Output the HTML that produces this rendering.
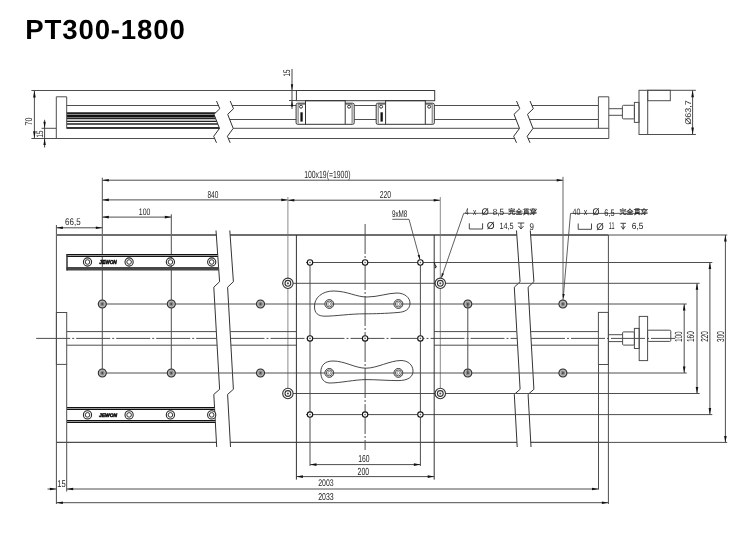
<!DOCTYPE html>
<html><head><meta charset="utf-8"><title>PT300-1800</title>
<style>
html,body{margin:0;padding:0;background:#fff;}
body{width:750px;height:541px;overflow:hidden;font-family:"Liberation Sans",sans-serif;}
svg{display:block;will-change:transform;}
</style></head>
<body>
<svg width="750" height="541" viewBox="0 0 750 541" shape-rendering="geometricPrecision">
<rect width="750" height="541" fill="#fff"/>
<line x1="31.4" y1="90.5" x2="434.7" y2="90.5" stroke="#4e4e4e" stroke-width="1"/>
<line x1="31.4" y1="138.5" x2="214.65" y2="138.5" stroke="#4e4e4e" stroke-width="1"/>
<line x1="228.35" y1="138.5" x2="514.65" y2="138.5" stroke="#4e4e4e" stroke-width="1"/>
<line x1="528.15" y1="138.5" x2="608.8" y2="138.5" stroke="#4e4e4e" stroke-width="1"/>
<line x1="41.6" y1="128.3" x2="56.3" y2="128.3" stroke="#4e4e4e" stroke-width="1"/>
<line x1="66.7" y1="128.3" x2="219.46" y2="128.3" stroke="#4e4e4e" stroke-width="1"/>
<line x1="233.16" y1="128.3" x2="519.46" y2="128.3" stroke="#4e4e4e" stroke-width="1"/>
<line x1="532.96" y1="128.3" x2="608.8" y2="128.3" stroke="#4e4e4e" stroke-width="1"/>
<line x1="66.7" y1="105.5" x2="218.43" y2="105.5" stroke="#4e4e4e" stroke-width="1"/>
<line x1="232.13" y1="105.5" x2="296.2" y2="105.5" stroke="#4e4e4e" stroke-width="1"/>
<line x1="354.3" y1="105.5" x2="376.2" y2="105.5" stroke="#4e4e4e" stroke-width="1"/>
<line x1="531.93" y1="105.5" x2="598.4" y2="105.5" stroke="#4e4e4e" stroke-width="1"/>
<line x1="434.3" y1="105.5" x2="518.43" y2="105.5" stroke="#4e4e4e" stroke-width="1"/>
<line x1="229.73" y1="119.5" x2="296.2" y2="119.5" stroke="#4e4e4e" stroke-width="1"/>
<line x1="354.3" y1="119.5" x2="376.2" y2="119.5" stroke="#4e4e4e" stroke-width="1"/>
<line x1="434.3" y1="119.5" x2="516.03" y2="119.5" stroke="#4e4e4e" stroke-width="1"/>
<line x1="529.53" y1="119.5" x2="598.4" y2="119.5" stroke="#4e4e4e" stroke-width="1"/>
<line x1="66.7" y1="112.5" x2="215.86" y2="112.5" stroke="#555" stroke-width="1.0"/>
<line x1="66.7" y1="113.5" x2="214.83" y2="113.5" stroke="#222" stroke-width="1.0"/>
<line x1="66.7" y1="114.5" x2="214.08" y2="114.5" stroke="#8a8a8a" stroke-width="1.0"/>
<line x1="66.7" y1="115.5" x2="214.47" y2="115.5" stroke="#111" stroke-width="1.0"/>
<line x1="66.7" y1="116.5" x2="214.86" y2="116.5" stroke="#111" stroke-width="1.0"/>
<line x1="66.7" y1="117.5" x2="215.25" y2="117.5" stroke="#777" stroke-width="1.0"/>
<line x1="66.7" y1="118.5" x2="215.64" y2="118.5" stroke="#222" stroke-width="1.0"/>
<line x1="66.7" y1="119.5" x2="216.03" y2="119.5" stroke="#c4c4c4" stroke-width="1.0"/>
<line x1="66.7" y1="120.5" x2="216.42" y2="120.5" stroke="#bdbdbd" stroke-width="1.0"/>
<line x1="66.7" y1="121.5" x2="216.81" y2="121.5" stroke="#222" stroke-width="1.0"/>
<line x1="66.7" y1="123.5" x2="217.59" y2="123.5" stroke="#555" stroke-width="1.0"/>
<line x1="66.7" y1="124.5" x2="217.98" y2="124.5" stroke="#5a5a5a" stroke-width="1.0"/>
<line x1="66.7" y1="127.5" x2="219.15" y2="127.5" stroke="#333" stroke-width="1.0"/>
<line x1="66.7" y1="128.5" x2="219.43" y2="128.5" stroke="#3a3a3a" stroke-width="1.0"/>
<polyline points="216.5,101 219.8,108.7 214,114.3 219.5,128.4 213.7,136.3 216.5,142.8" fill="none" stroke="#333" stroke-width="1" stroke-linejoin="miter"/>
<polyline points="230.2,101 233.5,108.7 227.7,114.3 233.2,128.4 227.4,136.3 230.2,142.8" fill="none" stroke="#333" stroke-width="1" stroke-linejoin="miter"/>
<polyline points="516.5,101 519.8,108.7 514,114.3 519.5,128.4 513.7,136.3 516.5,142.8" fill="none" stroke="#333" stroke-width="1" stroke-linejoin="miter"/>
<polyline points="530,101 533.3,108.7 527.5,114.3 533,128.4 527.2,136.3 530,142.8" fill="none" stroke="#333" stroke-width="1" stroke-linejoin="miter"/>
<line x1="56.3" y1="96.8" x2="56.3" y2="138.5" stroke="#4e4e4e" stroke-width="1"/>
<line x1="66.7" y1="96.8" x2="66.7" y2="128.3" stroke="#4e4e4e" stroke-width="1"/>
<line x1="56.3" y1="96.8" x2="66.7" y2="96.8" stroke="#4e4e4e" stroke-width="1"/>
<line x1="598.4" y1="96.8" x2="598.4" y2="128.3" stroke="#4e4e4e" stroke-width="1"/>
<line x1="608.8" y1="96.8" x2="608.8" y2="138.5" stroke="#4e4e4e" stroke-width="1"/>
<line x1="598.4" y1="96.8" x2="608.8" y2="96.8" stroke="#4e4e4e" stroke-width="1"/>
<rect x="296.4" y="90.5" width="138.3" height="10.2" fill="none" stroke="#3a3a3a" stroke-width="1"/>
<rect x="305.5" y="100.7" width="39.7" height="23.6" fill="none" stroke="#333" stroke-width="1"/>
<path d="M305.5,103.2 L297.6,103.2 Q296.1,103.2 296.1,104.8 L296.1,122.8 Q296.1,124.3 297.6,124.3 L305.5,124.3" fill="none" stroke="#333" stroke-width="1"/>
<line x1="298.1" y1="104.2" x2="298.1" y2="123.5" stroke="#444" stroke-width="0.8"/>
<line x1="298.1" y1="104.2" x2="305.5" y2="104.2" stroke="#444" stroke-width="0.8"/>
<circle cx="301" cy="106.7" r="1.5" fill="none" stroke="#333" stroke-width="1.0"/>
<rect x="300.4" y="112.3" width="2.3" height="9.3" fill="#111"/>
<path d="M345.2,103.2 L352.7,103.2 Q354.2,103.2 354.2,104.8 L354.2,122.8 Q354.2,124.3 352.7,124.3 L345.2,124.3" fill="none" stroke="#333" stroke-width="1"/>
<line x1="352.1" y1="104.2" x2="352.1" y2="123.5" stroke="#444" stroke-width="0.8"/>
<line x1="345.2" y1="104.2" x2="352.1" y2="104.2" stroke="#444" stroke-width="0.8"/>
<circle cx="349.1" cy="106.7" r="1.5" fill="none" stroke="#333" stroke-width="1.0"/>
<rect x="385.6" y="100.7" width="39.7" height="23.6" fill="none" stroke="#333" stroke-width="1"/>
<path d="M385.6,103.2 L377.7,103.2 Q376.2,103.2 376.2,104.8 L376.2,122.8 Q376.2,124.3 377.7,124.3 L385.6,124.3" fill="none" stroke="#333" stroke-width="1"/>
<line x1="378.2" y1="104.2" x2="378.2" y2="123.5" stroke="#444" stroke-width="0.8"/>
<line x1="378.2" y1="104.2" x2="385.6" y2="104.2" stroke="#444" stroke-width="0.8"/>
<circle cx="381.1" cy="106.7" r="1.5" fill="none" stroke="#333" stroke-width="1.0"/>
<rect x="380.5" y="112.3" width="2.3" height="9.3" fill="#111"/>
<path d="M425.3,103.2 L432.8,103.2 Q434.3,103.2 434.3,104.8 L434.3,122.8 Q434.3,124.3 432.8,124.3 L425.3,124.3" fill="none" stroke="#333" stroke-width="1"/>
<line x1="432.2" y1="104.2" x2="432.2" y2="123.5" stroke="#444" stroke-width="0.8"/>
<line x1="425.3" y1="104.2" x2="432.2" y2="104.2" stroke="#444" stroke-width="0.8"/>
<circle cx="429.2" cy="106.7" r="1.5" fill="none" stroke="#333" stroke-width="1.0"/>
<line x1="292" y1="69" x2="292" y2="109" stroke="#444" stroke-width="1"/>
<polygon points="292,90.3 290.8,84.3 293.2,84.3" fill="#111"/>
<polygon points="292,100.5 293.2,106.5 290.8,106.5" fill="#111"/>
<line x1="289" y1="100.5" x2="296.4" y2="100.5" stroke="#4e4e4e" stroke-width="1"/>
<line x1="34.4" y1="90.5" x2="34.4" y2="138.3" stroke="#4e4e4e" stroke-width="1"/>
<polygon points="34.4,90.5 35.7,97.5 33.1,97.5" fill="#111"/>
<polygon points="34.4,138.3 33.1,131.3 35.7,131.3" fill="#111"/>
<line x1="44.6" y1="119.8" x2="44.6" y2="147.5" stroke="#444" stroke-width="1"/>
<polygon points="44.6,128.3 43.4,121.8 45.8,121.8" fill="#111"/>
<polygon points="44.6,138.5 45.8,145 43.4,145" fill="#111"/>
<line x1="608.8" y1="108.7" x2="622.4" y2="108.7" stroke="#4e4e4e" stroke-width="1"/>
<line x1="608.8" y1="115.3" x2="622.4" y2="115.3" stroke="#4e4e4e" stroke-width="1"/>
<rect x="622.4" y="105.3" width="12" height="13.6" fill="none" stroke="#4e4e4e" stroke-width="1" rx="1"/>
<rect x="634.4" y="102.4" width="4.6" height="20" fill="none" stroke="#4e4e4e" stroke-width="1"/>
<rect x="639" y="90.3" width="8.7" height="44.2" fill="none" stroke="#4e4e4e" stroke-width="1"/>
<line x1="647.7" y1="90.3" x2="695.9" y2="90.3" stroke="#4e4e4e" stroke-width="1"/>
<line x1="647.7" y1="134.5" x2="695.9" y2="134.5" stroke="#4e4e4e" stroke-width="1"/>
<rect x="647.7" y="90.3" width="22.6" height="10.4" fill="none" stroke="#4e4e4e" stroke-width="1"/>
<line x1="692.6" y1="90.3" x2="692.6" y2="134.5" stroke="#4e4e4e" stroke-width="1"/>
<polygon points="692.6,90.3 693.9,97.3 691.3,97.3" fill="#111"/>
<polygon points="692.6,134.5 691.3,127.5 693.9,127.5" fill="#111"/>
<line x1="102.3" y1="180.2" x2="563.2" y2="180.2" stroke="#4e4e4e" stroke-width="1"/>
<polygon points="102.3,180.2 108.8,178.9 108.8,181.5" fill="#111"/>
<polygon points="563.2,180.2 556.7,181.5 556.7,178.9" fill="#111"/>
<line x1="102.3" y1="177.7" x2="102.3" y2="373" stroke="#4e4e4e" stroke-width="1"/>
<line x1="563" y1="176.8" x2="563" y2="304" stroke="#666" stroke-width="1"/>
<line x1="102.3" y1="199.9" x2="287.8" y2="199.9" stroke="#4e4e4e" stroke-width="1"/>
<polygon points="102.3,199.9 108.8,198.6 108.8,201.2" fill="#111"/>
<polygon points="287.8,199.9 281.3,201.2 281.3,198.6" fill="#111"/>
<line x1="287.8" y1="200.2" x2="440.2" y2="200.2" stroke="#4e4e4e" stroke-width="1"/>
<polygon points="287.8,200.2 294.3,198.9 294.3,201.5" fill="#111"/>
<polygon points="440.2,200.2 433.7,201.5 433.7,198.9" fill="#111"/>
<line x1="287.9" y1="197" x2="287.9" y2="393.5" stroke="#8c8c8c" stroke-width="1"/>
<line x1="440.3" y1="197" x2="440.3" y2="393.5" stroke="#8c8c8c" stroke-width="1"/>
<line x1="102.3" y1="217.1" x2="171.3" y2="217.1" stroke="#4e4e4e" stroke-width="1"/>
<polygon points="102.3,217.1 108.8,215.8 108.8,218.4" fill="#111"/>
<polygon points="171.3,217.1 164.8,218.4 164.8,215.8" fill="#111"/>
<line x1="171.3" y1="214.3" x2="171.3" y2="373" stroke="#4e4e4e" stroke-width="1"/>
<line x1="56.4" y1="227.8" x2="102.3" y2="227.8" stroke="#4e4e4e" stroke-width="1"/>
<polygon points="56.4,227.8 62.9,226.5 62.9,229.1" fill="#111"/>
<polygon points="102.3,227.8 95.8,229.1 95.8,226.5" fill="#111"/>
<line x1="56.4" y1="225" x2="56.4" y2="504" stroke="#4e4e4e" stroke-width="1"/>
<line x1="56.4" y1="235" x2="216.32" y2="235" stroke="#6e6e6e" stroke-width="2.0"/>
<line x1="230.12" y1="235" x2="516.82" y2="235" stroke="#6e6e6e" stroke-width="2.0"/>
<line x1="530.62" y1="235" x2="608.4" y2="235" stroke="#6e6e6e" stroke-width="2.0"/>
<line x1="56.4" y1="442.4" x2="216.45" y2="442.4" stroke="#4e4e4e" stroke-width="1.1"/>
<line x1="230.25" y1="442.4" x2="516.95" y2="442.4" stroke="#4e4e4e" stroke-width="1.1"/>
<line x1="530.75" y1="442.4" x2="608.4" y2="442.4" stroke="#4e4e4e" stroke-width="1.1"/>
<line x1="608.4" y1="235" x2="608.4" y2="504" stroke="#4e4e4e" stroke-width="1"/>
<polyline points="216,230.5 219.6,281.7 213.8,287.2 219.6,389.3 213.8,394.4 216.7,447" fill="none" stroke="#333" stroke-width="1" stroke-linejoin="miter"/>
<polyline points="229.8,230.5 233.4,281.7 227.6,287.2 233.4,389.3 227.6,394.4 230.5,447" fill="none" stroke="#333" stroke-width="1" stroke-linejoin="miter"/>
<polyline points="516.5,230.5 520.1,281.7 514.3,287.2 520.1,389.3 514.3,394.4 517.2,447" fill="none" stroke="#333" stroke-width="1" stroke-linejoin="miter"/>
<polyline points="530.3,230.5 533.9,281.7 528.1,287.2 533.9,389.3 528.1,394.4 531,447" fill="none" stroke="#333" stroke-width="1" stroke-linejoin="miter"/>
<line x1="66.7" y1="254.5" x2="217.69" y2="254.5" stroke="#111" stroke-width="1.0"/>
<line x1="66.7" y1="255.5" x2="217.76" y2="255.5" stroke="#9a9a9a" stroke-width="1.0"/>
<line x1="66.7" y1="256.5" x2="217.83" y2="256.5" stroke="#151515" stroke-width="1.0"/>
<line x1="66.7" y1="268.75" x2="218.69" y2="268.75" stroke="#474747" stroke-width="3.5"/>
<line x1="67" y1="254" x2="67" y2="270.5" stroke="#333" stroke-width="1.5"/>
<line x1="67" y1="407.5" x2="214.52" y2="407.5" stroke="#111" stroke-width="1.0"/>
<line x1="67" y1="408.5" x2="214.58" y2="408.5" stroke="#999" stroke-width="1.0"/>
<line x1="67" y1="409.5" x2="214.63" y2="409.5" stroke="#111" stroke-width="1.0"/>
<line x1="67" y1="420.5" x2="215.24" y2="420.5" stroke="#111" stroke-width="1.0"/>
<line x1="67" y1="421.5" x2="215.29" y2="421.5" stroke="#999" stroke-width="1.0"/>
<line x1="67" y1="422.5" x2="215.35" y2="422.5" stroke="#111" stroke-width="1.0"/>
<circle cx="87.5" cy="262" r="4.1" fill="#fff" stroke="#2a2a2a" stroke-width="1.1"/>
<circle cx="87.5" cy="262" r="2.3" fill="none" stroke="#333" stroke-width="1.0"/>
<circle cx="87.5" cy="414.9" r="4.1" fill="#fff" stroke="#2a2a2a" stroke-width="1.1"/>
<circle cx="87.5" cy="414.9" r="2.3" fill="none" stroke="#333" stroke-width="1.0"/>
<circle cx="129.1" cy="262" r="4.1" fill="#fff" stroke="#2a2a2a" stroke-width="1.1"/>
<circle cx="129.1" cy="262" r="2.3" fill="none" stroke="#333" stroke-width="1.0"/>
<circle cx="129.1" cy="414.9" r="4.1" fill="#fff" stroke="#2a2a2a" stroke-width="1.1"/>
<circle cx="129.1" cy="414.9" r="2.3" fill="none" stroke="#333" stroke-width="1.0"/>
<circle cx="170.4" cy="262" r="4.1" fill="#fff" stroke="#2a2a2a" stroke-width="1.1"/>
<circle cx="170.4" cy="262" r="2.3" fill="none" stroke="#333" stroke-width="1.0"/>
<circle cx="170.4" cy="414.9" r="4.1" fill="#fff" stroke="#2a2a2a" stroke-width="1.1"/>
<circle cx="170.4" cy="414.9" r="2.3" fill="none" stroke="#333" stroke-width="1.0"/>
<circle cx="211.7" cy="262" r="4.1" fill="#fff" stroke="#2a2a2a" stroke-width="1.1"/>
<circle cx="211.7" cy="262" r="2.3" fill="none" stroke="#333" stroke-width="1.0"/>
<circle cx="211.7" cy="414.9" r="4.1" fill="#fff" stroke="#2a2a2a" stroke-width="1.1"/>
<circle cx="211.7" cy="414.9" r="2.3" fill="none" stroke="#333" stroke-width="1.0"/>
<rect x="56.4" y="312.5" width="10.3" height="51.9" fill="none" stroke="#4e4e4e" stroke-width="1"/>
<line x1="66.7" y1="364.4" x2="66.7" y2="491.5" stroke="#4e4e4e" stroke-width="1"/>
<rect x="598.4" y="312.4" width="10" height="52.1" fill="none" stroke="#4e4e4e" stroke-width="1"/>
<line x1="598.5" y1="364.5" x2="598.5" y2="489.5" stroke="#4e4e4e" stroke-width="1"/>
<line x1="66.7" y1="331.6" x2="216.32" y2="331.6" stroke="#4e4e4e" stroke-width="1"/>
<line x1="230.12" y1="331.6" x2="296.4" y2="331.6" stroke="#4e4e4e" stroke-width="1"/>
<line x1="66.7" y1="345.2" x2="217.09" y2="345.2" stroke="#4e4e4e" stroke-width="1"/>
<line x1="230.89" y1="345.2" x2="296.4" y2="345.2" stroke="#4e4e4e" stroke-width="1"/>
<line x1="434.2" y1="331.6" x2="516.82" y2="331.6" stroke="#4e4e4e" stroke-width="1"/>
<line x1="530.62" y1="331.6" x2="598.4" y2="331.6" stroke="#4e4e4e" stroke-width="1"/>
<line x1="434.2" y1="345.2" x2="517.59" y2="345.2" stroke="#4e4e4e" stroke-width="1"/>
<line x1="531.39" y1="345.2" x2="598.4" y2="345.2" stroke="#4e4e4e" stroke-width="1"/>
<line x1="36.2" y1="338.4" x2="216.71" y2="338.4" stroke="#4e4e4e" stroke-width="1" stroke-dasharray="34,2,2,2"/>
<line x1="230.51" y1="338.4" x2="517.21" y2="338.4" stroke="#4e4e4e" stroke-width="1" stroke-dasharray="34,2,2,2"/>
<line x1="531.01" y1="338.4" x2="675.2" y2="338.4" stroke="#4e4e4e" stroke-width="1" stroke-dasharray="34,2,2,2"/>
<line x1="98" y1="304" x2="686.8" y2="304" stroke="#4e4e4e" stroke-width="1"/>
<line x1="98" y1="373" x2="686.8" y2="373" stroke="#4e4e4e" stroke-width="1"/>
<line x1="282" y1="283.3" x2="699.6" y2="283.3" stroke="#4e4e4e" stroke-width="1"/>
<line x1="282" y1="393.5" x2="699.6" y2="393.5" stroke="#4e4e4e" stroke-width="1"/>
<line x1="306" y1="262.5" x2="712.3" y2="262.5" stroke="#4e4e4e" stroke-width="1"/>
<line x1="306" y1="414.6" x2="712.3" y2="414.6" stroke="#4e4e4e" stroke-width="1"/>
<line x1="608.4" y1="235" x2="727.2" y2="235" stroke="#4e4e4e" stroke-width="1"/>
<line x1="608.4" y1="442.4" x2="727.2" y2="442.4" stroke="#4e4e4e" stroke-width="1"/>
<circle cx="102.3" cy="304" r="4" fill="#8a8a8a" stroke="#2e2e2e" stroke-width="1.1"/>
<circle cx="102.3" cy="304" r="2.8" fill="none" stroke="#c8c8c8" stroke-width="0.8"/>
<circle cx="102.3" cy="304" r="0.9" fill="#444" stroke="#000" stroke-width="0"/>
<circle cx="102.3" cy="373" r="4" fill="#8a8a8a" stroke="#2e2e2e" stroke-width="1.1"/>
<circle cx="102.3" cy="373" r="2.8" fill="none" stroke="#c8c8c8" stroke-width="0.8"/>
<circle cx="102.3" cy="373" r="0.9" fill="#444" stroke="#000" stroke-width="0"/>
<circle cx="171.3" cy="304" r="4" fill="#8a8a8a" stroke="#2e2e2e" stroke-width="1.1"/>
<circle cx="171.3" cy="304" r="2.8" fill="none" stroke="#c8c8c8" stroke-width="0.8"/>
<circle cx="171.3" cy="304" r="0.9" fill="#444" stroke="#000" stroke-width="0"/>
<circle cx="171.3" cy="373" r="4" fill="#8a8a8a" stroke="#2e2e2e" stroke-width="1.1"/>
<circle cx="171.3" cy="373" r="2.8" fill="none" stroke="#c8c8c8" stroke-width="0.8"/>
<circle cx="171.3" cy="373" r="0.9" fill="#444" stroke="#000" stroke-width="0"/>
<circle cx="260.5" cy="304" r="4" fill="#8a8a8a" stroke="#2e2e2e" stroke-width="1.1"/>
<circle cx="260.5" cy="304" r="2.8" fill="none" stroke="#c8c8c8" stroke-width="0.8"/>
<circle cx="260.5" cy="304" r="0.9" fill="#444" stroke="#000" stroke-width="0"/>
<circle cx="260.5" cy="373" r="4" fill="#8a8a8a" stroke="#2e2e2e" stroke-width="1.1"/>
<circle cx="260.5" cy="373" r="2.8" fill="none" stroke="#c8c8c8" stroke-width="0.8"/>
<circle cx="260.5" cy="373" r="0.9" fill="#444" stroke="#000" stroke-width="0"/>
<circle cx="467.8" cy="304" r="4" fill="#8a8a8a" stroke="#2e2e2e" stroke-width="1.1"/>
<circle cx="467.8" cy="304" r="2.8" fill="none" stroke="#c8c8c8" stroke-width="0.8"/>
<circle cx="467.8" cy="304" r="0.9" fill="#444" stroke="#000" stroke-width="0"/>
<circle cx="467.8" cy="373" r="4" fill="#8a8a8a" stroke="#2e2e2e" stroke-width="1.1"/>
<circle cx="467.8" cy="373" r="2.8" fill="none" stroke="#c8c8c8" stroke-width="0.8"/>
<circle cx="467.8" cy="373" r="0.9" fill="#444" stroke="#000" stroke-width="0"/>
<circle cx="562.9" cy="304" r="4" fill="#8a8a8a" stroke="#2e2e2e" stroke-width="1.1"/>
<circle cx="562.9" cy="304" r="2.8" fill="none" stroke="#c8c8c8" stroke-width="0.8"/>
<circle cx="562.9" cy="304" r="0.9" fill="#444" stroke="#000" stroke-width="0"/>
<circle cx="562.9" cy="373" r="4" fill="#8a8a8a" stroke="#2e2e2e" stroke-width="1.1"/>
<circle cx="562.9" cy="373" r="2.8" fill="none" stroke="#c8c8c8" stroke-width="0.8"/>
<circle cx="562.9" cy="373" r="0.9" fill="#444" stroke="#000" stroke-width="0"/>
<line x1="467.8" y1="304" x2="467.8" y2="373" stroke="#4e4e4e" stroke-width="1"/>
<circle cx="287.9" cy="283.3" r="5.2" fill="#fff" stroke="#333" stroke-width="1.1"/>
<circle cx="287.9" cy="283.3" r="2.9" fill="none" stroke="#333" stroke-width="1.1"/>
<circle cx="287.9" cy="283.3" r="1.1" fill="#555" stroke="#000" stroke-width="0"/>
<circle cx="287.9" cy="393.5" r="5.2" fill="#fff" stroke="#333" stroke-width="1.1"/>
<circle cx="287.9" cy="393.5" r="2.9" fill="none" stroke="#333" stroke-width="1.1"/>
<circle cx="287.9" cy="393.5" r="1.1" fill="#555" stroke="#000" stroke-width="0"/>
<circle cx="440.3" cy="283.3" r="5.2" fill="#fff" stroke="#333" stroke-width="1.1"/>
<circle cx="440.3" cy="283.3" r="2.9" fill="none" stroke="#333" stroke-width="1.1"/>
<circle cx="440.3" cy="283.3" r="1.1" fill="#555" stroke="#000" stroke-width="0"/>
<circle cx="440.3" cy="393.5" r="5.2" fill="#fff" stroke="#333" stroke-width="1.1"/>
<circle cx="440.3" cy="393.5" r="2.9" fill="none" stroke="#333" stroke-width="1.1"/>
<circle cx="440.3" cy="393.5" r="1.1" fill="#555" stroke="#000" stroke-width="0"/>
<line x1="296.4" y1="235" x2="296.4" y2="479.6" stroke="#333" stroke-width="1"/>
<line x1="434.2" y1="235" x2="434.2" y2="479.6" stroke="#333" stroke-width="1"/>
<line x1="310" y1="262.5" x2="310" y2="466" stroke="#4e4e4e" stroke-width="1"/>
<line x1="420.4" y1="262.5" x2="420.4" y2="466" stroke="#4e4e4e" stroke-width="1"/>
<line x1="365.1" y1="224" x2="365.1" y2="450" stroke="#4e4e4e" stroke-width="1" stroke-dasharray="30,2,2,2"/>
<circle cx="310" cy="262.5" r="2.7" fill="#fff" stroke="#151515" stroke-width="1.1"/>
<circle cx="310" cy="262.5" r="0.8" fill="#555" stroke="#000" stroke-width="0"/>
<circle cx="310" cy="338.4" r="2.7" fill="#fff" stroke="#151515" stroke-width="1.1"/>
<circle cx="310" cy="338.4" r="0.8" fill="#555" stroke="#000" stroke-width="0"/>
<circle cx="310" cy="414.6" r="2.7" fill="#fff" stroke="#151515" stroke-width="1.1"/>
<circle cx="310" cy="414.6" r="0.8" fill="#555" stroke="#000" stroke-width="0"/>
<circle cx="365.1" cy="262.5" r="2.7" fill="#fff" stroke="#151515" stroke-width="1.1"/>
<circle cx="365.1" cy="262.5" r="0.8" fill="#555" stroke="#000" stroke-width="0"/>
<circle cx="365.1" cy="338.4" r="2.7" fill="#fff" stroke="#151515" stroke-width="1.1"/>
<circle cx="365.1" cy="338.4" r="0.8" fill="#555" stroke="#000" stroke-width="0"/>
<circle cx="365.1" cy="414.6" r="2.7" fill="#fff" stroke="#151515" stroke-width="1.1"/>
<circle cx="365.1" cy="414.6" r="0.8" fill="#555" stroke="#000" stroke-width="0"/>
<circle cx="420.4" cy="262.5" r="2.7" fill="#fff" stroke="#151515" stroke-width="1.1"/>
<circle cx="420.4" cy="262.5" r="0.8" fill="#555" stroke="#000" stroke-width="0"/>
<circle cx="420.4" cy="338.4" r="2.7" fill="#fff" stroke="#151515" stroke-width="1.1"/>
<circle cx="420.4" cy="338.4" r="0.8" fill="#555" stroke="#000" stroke-width="0"/>
<circle cx="420.4" cy="414.6" r="2.7" fill="#fff" stroke="#151515" stroke-width="1.1"/>
<circle cx="420.4" cy="414.6" r="0.8" fill="#555" stroke="#000" stroke-width="0"/>
<path d="M314.5,307 C314,298 322,290.8 334,291 C348,291.3 356,297 367,297 C378,297 388,293 397,293 C405,293 410,298 410,303 C410,309.5 405,312 398,312.5 C385,313.5 375,313.8 365,313.8 C350,313.8 335,316.2 325,316.2 C318,316.2 314.5,313 314.5,307 Z" fill="none" stroke="#333" stroke-width="0.9"/>
<path d="M320.8,372 C321,365 325,361 333,361 C345,361 355,368.2 366,368.2 C377,368.2 390,360.5 401,360.5 C408,360.5 413,365 413,371 C413,377 408,380.6 398,380.6 C388,380.6 376,379.6 366,379.6 C355,379.6 340,383 330,383 C324,383 320.8,379 320.8,372 Z" fill="none" stroke="#333" stroke-width="0.9"/>
<circle cx="329.3" cy="304" r="4.4" fill="#fff" stroke="#333" stroke-width="1.0"/>
<circle cx="329.3" cy="304" r="3" fill="none" stroke="#444" stroke-width="0.9"/>
<circle cx="329.3" cy="304" r="1.5" fill="none" stroke="#666" stroke-width="0.7"/>
<circle cx="329.3" cy="372.9" r="4.4" fill="#fff" stroke="#333" stroke-width="1.0"/>
<circle cx="329.3" cy="372.9" r="3" fill="none" stroke="#444" stroke-width="0.9"/>
<circle cx="329.3" cy="372.9" r="1.5" fill="none" stroke="#666" stroke-width="0.7"/>
<circle cx="398.4" cy="304" r="4.4" fill="#fff" stroke="#333" stroke-width="1.0"/>
<circle cx="398.4" cy="304" r="3" fill="none" stroke="#444" stroke-width="0.9"/>
<circle cx="398.4" cy="304" r="1.5" fill="none" stroke="#666" stroke-width="0.7"/>
<circle cx="398.4" cy="372.9" r="4.4" fill="#fff" stroke="#333" stroke-width="1.0"/>
<circle cx="398.4" cy="372.9" r="3" fill="none" stroke="#444" stroke-width="0.9"/>
<circle cx="398.4" cy="372.9" r="1.5" fill="none" stroke="#666" stroke-width="0.7"/>
<line x1="310" y1="464.6" x2="420.4" y2="464.6" stroke="#4e4e4e" stroke-width="1"/>
<polygon points="310,464.6 316.5,463.3 316.5,465.9" fill="#111"/>
<polygon points="420.4,464.6 413.9,465.9 413.9,463.3" fill="#111"/>
<line x1="296.4" y1="476.6" x2="434.2" y2="476.6" stroke="#4e4e4e" stroke-width="1"/>
<polygon points="296.4,476.6 302.9,475.3 302.9,477.9" fill="#111"/>
<polygon points="434.2,476.6 427.7,477.9 427.7,475.3" fill="#111"/>
<line x1="66.7" y1="489" x2="598.5" y2="489" stroke="#4e4e4e" stroke-width="1"/>
<polygon points="66.7,489 73.2,487.7 73.2,490.3" fill="#111"/>
<polygon points="598.5,489 592,490.3 592,487.7" fill="#111"/>
<line x1="47.5" y1="489" x2="56.4" y2="489" stroke="#4e4e4e" stroke-width="1"/>
<polygon points="56.4,489 49.9,490.3 49.9,487.7" fill="#111"/>
<line x1="56.4" y1="502.7" x2="608.4" y2="502.7" stroke="#4e4e4e" stroke-width="1"/>
<polygon points="56.4,502.7 62.9,501.4 62.9,504" fill="#111"/>
<polygon points="608.4,502.7 601.9,504 601.9,501.4" fill="#111"/>
<line x1="684.2" y1="304" x2="684.2" y2="373" stroke="#4e4e4e" stroke-width="1"/>
<polygon points="684.2,304 685.5,310.5 682.9,310.5" fill="#111"/>
<polygon points="684.2,373 682.9,366.5 685.5,366.5" fill="#111"/>
<line x1="697" y1="283.3" x2="697" y2="393.5" stroke="#4e4e4e" stroke-width="1"/>
<polygon points="697,283.3 698.3,289.8 695.7,289.8" fill="#111"/>
<polygon points="697,393.5 695.7,387 698.3,387" fill="#111"/>
<line x1="709.9" y1="262.5" x2="709.9" y2="414.6" stroke="#4e4e4e" stroke-width="1"/>
<polygon points="709.9,262.5 711.2,269 708.6,269" fill="#111"/>
<polygon points="709.9,414.6 708.6,408.1 711.2,408.1" fill="#111"/>
<line x1="725.4" y1="235" x2="725.4" y2="442.4" stroke="#4e4e4e" stroke-width="1"/>
<polygon points="725.4,235 726.7,241.5 724.1,241.5" fill="#111"/>
<polygon points="725.4,442.4 724.1,435.9 726.7,435.9" fill="#111"/>
<line x1="608.4" y1="334.7" x2="622.6" y2="334.7" stroke="#4e4e4e" stroke-width="1"/>
<line x1="608.4" y1="341.6" x2="622.6" y2="341.6" stroke="#4e4e4e" stroke-width="1"/>
<rect x="622.6" y="331.9" width="11.8" height="13.2" fill="none" stroke="#4e4e4e" stroke-width="1" rx="1"/>
<rect x="634.4" y="328.4" width="4.8" height="20.1" fill="none" stroke="#4e4e4e" stroke-width="1"/>
<rect x="639.2" y="316.4" width="8.4" height="44.2" fill="none" stroke="#4e4e4e" stroke-width="1"/>
<rect x="647.6" y="330.2" width="23.2" height="11.2" fill="none" stroke="#4e4e4e" stroke-width="1" rx="1"/>
<line x1="392.3" y1="219.3" x2="409" y2="219.3" stroke="#4e4e4e" stroke-width="0.9"/>
<line x1="409" y1="219.3" x2="420" y2="259.6" stroke="#4e4e4e" stroke-width="0.9"/>
<polygon points="420,259.8 417.62,255.27 419.74,254.69" fill="#111"/>
<line x1="441.5" y1="277.6" x2="463.7" y2="213.3" stroke="#4e4e4e" stroke-width="0.9"/>
<polygon points="441.3,278 441.89,272.91 443.97,273.63" fill="#111"/>
<line x1="463.7" y1="213.3" x2="536.6" y2="213.3" stroke="#4e4e4e" stroke-width="0.9"/>
<line x1="563.3" y1="297" x2="570.5" y2="213.4" stroke="#4e4e4e" stroke-width="0.9"/>
<polygon points="563.2,299 562.53,293.92 564.72,294.11" fill="#111"/>
<line x1="570.5" y1="213.4" x2="647.6" y2="213.4" stroke="#4e4e4e" stroke-width="0.9"/>
<polyline points="469.3,223.3 469.3,229 482.6,229 482.6,223.3" fill="none" stroke="#333" stroke-width="0.9" stroke-linejoin="miter"/>
<line x1="517.7" y1="223" x2="524.3" y2="223" stroke="#333" stroke-width="0.9"/>
<line x1="521" y1="223" x2="521" y2="229" stroke="#333" stroke-width="0.9"/>
<polyline points="518.5,226 521,229 523.5,226" fill="none" stroke="#333" stroke-width="0.9" stroke-linejoin="miter"/>
<polyline points="578.2,223.5 578.2,229.3 591.5,229.3 591.5,223.5" fill="none" stroke="#333" stroke-width="0.9" stroke-linejoin="miter"/>
<line x1="620.4" y1="223.3" x2="626" y2="223.3" stroke="#333" stroke-width="0.9"/>
<line x1="623.2" y1="223.3" x2="623.2" y2="229.2" stroke="#333" stroke-width="0.9"/>
<polyline points="621.2,226.2 623.2,229.2 625.2,226.2" fill="none" stroke="#333" stroke-width="0.9" stroke-linejoin="miter"/>
<path d="M434.4,262.6 L435,265.2 L436.2,266.8 L434.8,268.2" fill="none" stroke="#222" stroke-width="1.1"/>
<text x="25.37" y="38.80" font-family="Liberation Sans" font-size="27.60" font-weight="bold" font-style="normal" fill="#000" textLength="159.41" lengthAdjust="spacing" text-rendering="geometricPrecision">PT300-1800</text>
<text x="304.13" y="177.98" font-family="Liberation Sans" font-size="10.30" font-weight="normal" font-style="normal" fill="#1e1e1e" textLength="46.43" lengthAdjust="spacingAndGlyphs" text-rendering="geometricPrecision">100x19(=1900)</text>
<text x="207.43" y="197.50" font-family="Liberation Sans" font-size="9.88" font-weight="normal" font-style="normal" fill="#1e1e1e" textLength="10.90" lengthAdjust="spacingAndGlyphs" text-rendering="geometricPrecision">840</text>
<text x="379.74" y="197.70" font-family="Liberation Sans" font-size="10.15" font-weight="normal" font-style="normal" fill="#1e1e1e" textLength="11.39" lengthAdjust="spacingAndGlyphs" text-rendering="geometricPrecision">220</text>
<text x="138.82" y="214.97" font-family="Liberation Sans" font-size="9.43" font-weight="normal" font-style="normal" fill="#1e1e1e" textLength="11.56" lengthAdjust="spacingAndGlyphs" text-rendering="geometricPrecision">100</text>
<text x="65.12" y="224.97" font-family="Liberation Sans" font-size="9.62" font-weight="normal" font-style="normal" fill="#1e1e1e" textLength="15.52" lengthAdjust="spacingAndGlyphs" text-rendering="geometricPrecision">66,5</text>
<text x="391.89" y="217.02" font-family="Liberation Sans" font-size="9.68" font-weight="normal" font-style="normal" fill="#1e1e1e" textLength="15.50" lengthAdjust="spacingAndGlyphs" text-rendering="geometricPrecision">9xM8</text>
<text x="465.23" y="215.41" font-family="Liberation Sans" font-size="9.84" font-weight="normal" font-style="normal" fill="#1e1e1e" textLength="3.40" lengthAdjust="spacingAndGlyphs" text-rendering="geometricPrecision">4</text>
<text x="472.90" y="214.51" font-family="Liberation Sans" font-size="9.50" font-weight="normal" font-style="normal" fill="#1e1e1e" textLength="3.30" lengthAdjust="spacingAndGlyphs" text-rendering="geometricPrecision">x</text>
<text x="481.51" y="214.96" font-family="Liberation Sans" font-size="9.61" font-weight="normal" font-style="normal" fill="#1e1e1e" textLength="7.34" lengthAdjust="spacingAndGlyphs" text-rendering="geometricPrecision">Ø</text>
<text x="492.64" y="214.79" font-family="Liberation Sans" font-size="9.04" font-weight="normal" font-style="normal" fill="#1e1e1e" textLength="11.34" lengthAdjust="spacingAndGlyphs" text-rendering="geometricPrecision">8,5</text>
<text x="508.29" y="214.32" font-family="Liberation Sans" font-size="6.91" font-weight="normal" font-style="normal" fill="#1e1e1e" stroke="#1e1e1e" stroke-width="0.2" textLength="28.69" lengthAdjust="spacingAndGlyphs" text-rendering="geometricPrecision">完全貫穿</text>
<text x="486.84" y="229.43" font-family="Liberation Sans" font-size="10.03" font-weight="normal" font-style="normal" fill="#1e1e1e" textLength="7.85" lengthAdjust="spacingAndGlyphs" text-rendering="geometricPrecision">Ø</text>
<text x="499.48" y="228.89" font-family="Liberation Sans" font-size="9.18" font-weight="normal" font-style="normal" fill="#1e1e1e" textLength="14.12" lengthAdjust="spacingAndGlyphs" text-rendering="geometricPrecision">14,5</text>
<text x="529.52" y="229.58" font-family="Liberation Sans" font-size="9.80" font-weight="normal" font-style="normal" fill="#1e1e1e" textLength="4.42" lengthAdjust="spacingAndGlyphs" text-rendering="geometricPrecision">9</text>
<text x="572.53" y="215.15" font-family="Liberation Sans" font-size="9.22" font-weight="normal" font-style="normal" fill="#1e1e1e" textLength="7.79" lengthAdjust="spacingAndGlyphs" text-rendering="geometricPrecision">40</text>
<text x="583.70" y="214.77" font-family="Liberation Sans" font-size="9.62" font-weight="normal" font-style="normal" fill="#1e1e1e" textLength="3.55" lengthAdjust="spacingAndGlyphs" text-rendering="geometricPrecision">x</text>
<text x="592.44" y="215.03" font-family="Liberation Sans" font-size="9.79" font-weight="normal" font-style="normal" fill="#1e1e1e" textLength="6.97" lengthAdjust="spacingAndGlyphs" text-rendering="geometricPrecision">Ø</text>
<text x="604.30" y="215.55" font-family="Liberation Sans" font-size="9.55" font-weight="normal" font-style="normal" fill="#1e1e1e" textLength="10.21" lengthAdjust="spacingAndGlyphs" text-rendering="geometricPrecision">6,5</text>
<text x="619.47" y="213.98" font-family="Liberation Sans" font-size="6.70" font-weight="normal" font-style="normal" fill="#1e1e1e" stroke="#1e1e1e" stroke-width="0.2" textLength="28.53" lengthAdjust="spacingAndGlyphs" text-rendering="geometricPrecision">完全貫穿</text>
<text x="596.23" y="229.51" font-family="Liberation Sans" font-size="9.83" font-weight="normal" font-style="normal" fill="#1e1e1e" textLength="7.53" lengthAdjust="spacingAndGlyphs" text-rendering="geometricPrecision">Ø</text>
<text x="608.75" y="229.41" font-family="Liberation Sans" font-size="9.98" font-weight="normal" font-style="normal" fill="#1e1e1e" textLength="5.68" lengthAdjust="spacingAndGlyphs" text-rendering="geometricPrecision">11</text>
<text x="631.86" y="228.78" font-family="Liberation Sans" font-size="8.95" font-weight="normal" font-style="normal" fill="#1e1e1e" textLength="11.65" lengthAdjust="spacingAndGlyphs" text-rendering="geometricPrecision">6,5</text>
<text x="358.14" y="461.93" font-family="Liberation Sans" font-size="10.11" font-weight="normal" font-style="normal" fill="#1e1e1e" textLength="11.36" lengthAdjust="spacingAndGlyphs" text-rendering="geometricPrecision">160</text>
<text x="357.61" y="474.57" font-family="Liberation Sans" font-size="10.23" font-weight="normal" font-style="normal" fill="#1e1e1e" textLength="11.52" lengthAdjust="spacingAndGlyphs" text-rendering="geometricPrecision">200</text>
<text x="318.20" y="486.44" font-family="Liberation Sans" font-size="9.50" font-weight="normal" font-style="normal" fill="#1e1e1e" textLength="15.47" lengthAdjust="spacingAndGlyphs" text-rendering="geometricPrecision">2003</text>
<text x="318.21" y="500.02" font-family="Liberation Sans" font-size="9.89" font-weight="normal" font-style="normal" fill="#1e1e1e" textLength="15.55" lengthAdjust="spacingAndGlyphs" text-rendering="geometricPrecision">2033</text>
<text x="57.35" y="486.88" font-family="Liberation Sans" font-size="9.76" font-weight="normal" font-style="normal" fill="#1e1e1e" textLength="8.40" lengthAdjust="spacingAndGlyphs" text-rendering="geometricPrecision">15</text>
<text x="99.36" y="263.65" font-family="Liberation Sans" font-size="5.61" font-weight="bold" font-style="italic" fill="#111" stroke="#111" stroke-width="0.55" textLength="17.44" lengthAdjust="spacingAndGlyphs" text-rendering="geometricPrecision">JEWON</text>
<text x="98.96" y="416.87" font-family="Liberation Sans" font-size="5.17" font-weight="bold" font-style="italic" fill="#111" stroke="#111" stroke-width="0.55" textLength="18.23" lengthAdjust="spacingAndGlyphs" text-rendering="geometricPrecision">JEWON</text>
<text x="32.14" y="125.49" font-family="Liberation Sans" font-size="9.70" font-weight="normal" font-style="normal" fill="#1e1e1e" textLength="8.08" lengthAdjust="spacingAndGlyphs" text-rendering="geometricPrecision" transform="rotate(-90 32.14 125.49)">70</text>
<text x="42.68" y="137.85" font-family="Liberation Sans" font-size="9.52" font-weight="normal" font-style="normal" fill="#1e1e1e" textLength="7.45" lengthAdjust="spacingAndGlyphs" text-rendering="geometricPrecision" transform="rotate(-90 42.68 137.85)">15</text>
<text x="289.89" y="76.39" font-family="Liberation Sans" font-size="9.63" font-weight="normal" font-style="normal" fill="#1e1e1e" textLength="6.86" lengthAdjust="spacingAndGlyphs" text-rendering="geometricPrecision" transform="rotate(-90 289.89 76.39)">15</text>
<text x="691.09" y="124.65" font-family="Liberation Sans" font-size="8.27" font-weight="normal" font-style="normal" fill="#1e1e1e" textLength="24.41" lengthAdjust="spacingAndGlyphs" text-rendering="geometricPrecision" transform="rotate(-90 691.09 124.65)">Ø63,7</text>
<text x="682.07" y="342.11" font-family="Liberation Sans" font-size="10.34" font-weight="normal" font-style="normal" fill="#1e1e1e" textLength="10.82" lengthAdjust="spacingAndGlyphs" text-rendering="geometricPrecision" transform="rotate(-90 682.07 342.11)">100</text>
<text x="694.38" y="342.11" font-family="Liberation Sans" font-size="10.29" font-weight="normal" font-style="normal" fill="#1e1e1e" textLength="11.08" lengthAdjust="spacingAndGlyphs" text-rendering="geometricPrecision" transform="rotate(-90 694.38 342.11)">160</text>
<text x="707.98" y="341.69" font-family="Liberation Sans" font-size="10.25" font-weight="normal" font-style="normal" fill="#1e1e1e" textLength="10.59" lengthAdjust="spacingAndGlyphs" text-rendering="geometricPrecision" transform="rotate(-90 707.98 341.69)">220</text>
<text x="723.77" y="341.91" font-family="Liberation Sans" font-size="10.22" font-weight="normal" font-style="normal" fill="#1e1e1e" textLength="10.78" lengthAdjust="spacingAndGlyphs" text-rendering="geometricPrecision" transform="rotate(-90 723.77 341.91)">300</text>
</svg>
</body></html>
